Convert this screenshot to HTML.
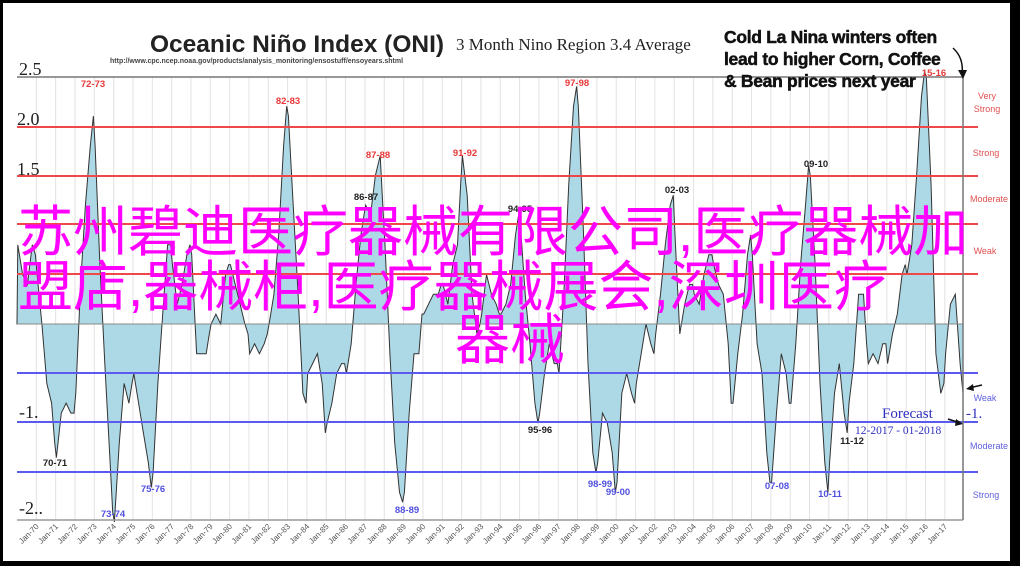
<!DOCTYPE html>
<html><head><meta charset="utf-8"><style>
body{margin:0;background:#000;width:1020px;height:566px;overflow:hidden;position:relative;font-family:"Liberation Sans",sans-serif}
#w{position:absolute;left:3px;top:3px;width:1007px;height:558px;background:#fff}
svg{position:absolute;left:0;top:0}
.cn{position:absolute;white-space:nowrap;color:#ff00ff;font-family:"Liberation Sans","Noto Sans CJK SC",sans-serif;font-size:55px;line-height:55px}
</style></head><body>
<div id="w"></div>
<svg id="s" width="1020" height="566" xmlns="http://www.w3.org/2000/svg">
<g id="grid"></g>
<path id="area" fill="#add8e6" stroke="#333" stroke-width="1"/>
<g stroke-width="2">
<line x1="17" y1="127" x2="978" y2="127" stroke="#f04848"/>
<line x1="17" y1="176" x2="978" y2="176" stroke="#f04848"/>
<line x1="17" y1="224" x2="978" y2="224" stroke="#f04848"/>
<line x1="17" y1="274" x2="978" y2="274" stroke="#f04848"/>
<line x1="17" y1="373" x2="978" y2="373" stroke="#5a5af0"/>
<line x1="17" y1="422" x2="978" y2="422" stroke="#5a5af0"/>
<line x1="17" y1="472" x2="978" y2="472" stroke="#5a5af0"/>
</g>
<line x1="17" y1="324" x2="963" y2="324" stroke="#888" stroke-width="1"/>
<line x1="17" y1="77" x2="963" y2="77" stroke="#777" stroke-width="1.5"/>
<line x1="17" y1="520" x2="963" y2="520" stroke="#999" stroke-width="1.5"/>
<line x1="963" y1="77" x2="963" y2="520" stroke="#777" stroke-width="1.5"/>
<g id="xl" font-size="8" fill="#555"></g>
<g font-family="Liberation Serif,serif" font-size="18" fill="#222">
<text x="19" y="75">2.5</text><text x="17" y="125">2.0</text><text x="17" y="175">1.5</text>
<text x="19" y="418">-1.</text><text x="19" y="514">-2..</text>
</g>
<text x="150" y="52" font-size="24.5" font-weight="bold" fill="#222">Oceanic Niño Index (ONI)</text>
<text x="456" y="50" font-family="Liberation Serif,serif" font-size="17" fill="#222">3 Month Nino Region 3.4 Average</text>
<text x="110" y="63" font-size="7" font-weight="bold" fill="#444">http://www.cpc.ncep.noaa.gov/products/analysis_monitoring/ensostuff/ensoyears.shtml</text>
<g font-size="17.5" font-weight="900" fill="#111" letter-spacing="-0.3" stroke="#111" stroke-width="0.5">
<text x="724" y="43">Cold La Nina winters often</text>
<text x="724" y="65">lead to higher Corn, Coffee</text>
<text x="724" y="87">&amp; Bean prices next year</text>
</g>
<path d="M953,48 Q964,58 962,74" stroke="#111" fill="none" stroke-width="1.5"/>
<path d="M958,70 L963,79 L967,70 Z" fill="#111"/>
<g font-size="9.5" font-weight="bold" text-anchor="middle">
<g fill="#e83838"><text x="93" y="87">72-73</text><text x="288" y="104">82-83</text><text x="378" y="158">87-88</text><text x="465" y="156">91-92</text><text x="577" y="86">97-98</text><text x="934" y="76">15-16</text></g>
<g fill="#222"><text x="366" y="200">86-87</text><text x="520" y="212">94-95</text><text x="677" y="193">02-03</text><text x="816" y="167">09-10</text><text x="55" y="466">70-71</text><text x="540" y="433">95-96</text><text x="852" y="444">11-12</text></g>
<g fill="#5050e0"><text x="113" y="517">73-74</text><text x="153" y="492">75-76</text><text x="407" y="513">88-89</text><text x="600" y="487">98-99</text><text x="618" y="495">99-00</text><text x="777" y="489">07-08</text><text x="830" y="497">10-11</text></g>
</g>
<g font-size="9" text-anchor="middle">
<g fill="#e05050"><text x="987" y="99">Very</text><text x="987" y="112">Strong</text><text x="986" y="156">Strong</text><text x="989" y="202">Moderate</text><text x="985" y="254">Weak</text></g>
<g fill="#6060e0"><text x="985" y="401">Weak</text><text x="989" y="449">Moderate</text><text x="986" y="498">Strong</text></g>
</g>
<g font-family="Liberation Serif,serif" fill="#3030c0">
<text x="882" y="418" font-size="15">Forecast</text>
<text x="966" y="418" font-size="15">-1.</text>
<text x="855" y="434" font-size="11.5">12-2017 - 01-2018</text>
</g>
<path d="M948,419 L960,423" stroke="#111" stroke-width="1.5"/><path d="M956,419 L963,424 L955,426Z" fill="#111"/>
<path d="M982,385 L969,388" stroke="#111" stroke-width="1.5"/><path d="M973,384 L966,389 L974,391Z" fill="#111"/>
</svg>
<div class="cn" style="left:18px;top:205px">苏州碧迪医疗器械有限公司,医疗器械加</div>
<div class="cn" style="left:18px;top:260px">盟店,器械柜,医疗器械展会,深圳医疗</div>
<div class="cn" style="left:455px;top:313px">器械</div>
<script>
var d={1969:[0.8,0.5,0.4,0.8,0.7],1970:[0.5,0.0,-0.6,-0.8,-1.2],1971:[-1.35,-0.9,-0.8,-0.9,-0.9],1972:[-0.7,0.4,1.2,1.8,2.1],1973:[1.8,0.6,-0.4,-1.3,-1.9],1974:[-2.0,-1.2,-0.6,-0.8,-0.6],1975:[-0.5,-0.8,-1.1,-1.4,-1.65],1976:[-1.5,-0.6,0.1,0.8,0.8],1977:[0.6,0.2,0.4,0.7,0.8],1978:[0.7,-0.3,-0.3,-0.3,-0.1],1979:[0.0,0.1,0.0,0.5,0.6],1980:[0.6,0.4,0.2,0.0,-0.1],1981:[-0.3,-0.2,-0.3,-0.2,-0.1],1982:[0.0,0.3,0.9,1.8,2.2],1983:[2.1,1.2,0.3,-0.7,-0.8],1984:[-0.5,-0.4,-0.3,-0.6,-1.1],1985:[-1.0,-0.8,-0.5,-0.4,-0.4],1986:[-0.5,-0.2,0.4,0.9,1.1],1987:[1.2,1.1,1.5,1.7,1.1],1988:[0.8,-0.3,-1.2,-1.7,-1.8],1989:[-1.7,-0.9,-0.3,-0.3,0.1],1990:[0.1,0.2,0.3,0.3,0.4],1991:[0.4,0.2,0.6,0.8,1.4],1992:[1.7,1.3,0.3,-0.1,0.0],1993:[0.1,0.5,0.3,0.2,0.1],1994:[0.1,0.2,0.4,0.9,1.1],1995:[1.0,0.3,-0.2,-0.8,-1.0],1996:[-0.9,-0.5,-0.2,-0.4,-0.4],1997:[-0.5,0.3,1.4,2.2,2.4],1998:[2.2,1.0,-0.4,-1.3,-1.5],1999:[-1.4,-0.9,-1.0,-1.3,-1.7],2000:[-1.6,-0.7,-0.5,-0.7,-0.8],2001:[-0.6,-0.3,0.0,-0.2,-0.3],2002:[-0.1,0.3,0.8,1.2,1.3],2003:[0.9,-0.1,0.2,0.4,0.4],2004:[0.3,0.2,0.5,0.7,0.7],2005:[0.6,0.4,0.3,-0.2,-0.8],2006:[-0.8,-0.3,0.1,0.7,0.9],2007:[0.7,-0.2,-0.5,-1.3,-1.6],2008:[-1.6,-0.9,-0.3,-0.5,-0.8],2009:[-0.8,-0.2,0.6,1.2,1.6],2010:[1.5,0.6,-0.6,-1.4,-1.7],2011:[-1.4,-0.7,-0.4,-0.9,-1.1],2012:[-0.8,-0.4,0.3,0.3,-0.2],2013:[-0.4,-0.3,-0.4,-0.2,-0.2],2014:[-0.4,-0.1,0.1,0.5,0.6],2015:[0.5,0.8,1.5,2.3,2.6],2016:[2.5,1.4,-0.3,-0.7,-0.6],2017:[-0.3,0.2,0.3,-0.4,-0.7]};
var off=[0.04,0.29,0.54,0.79,0.95];
function X(t){return 17+(t-1969)*19.33}
function Y(v){v=Math.max(-2.0,Math.min(2.55,v));return 324-99*v}
var p="M17,324";
for(var y=1969;y<=2017;y++)for(var i=0;i<5;i++){var x=X(y+off[i]);if(x>963)x=963;p+=" L"+x.toFixed(1)+","+Y(d[y][i]).toFixed(1);}
p+=" L963,324 Z";
document.getElementById('area').setAttribute('d',p);
var g=document.getElementById('grid'),xl=document.getElementById('xl'),ns="http://www.w3.org/2000/svg";
for(var y=1969;y<=2017;y++){var x=X(y+1);if(x<963){var l=document.createElementNS(ns,'line');l.setAttribute('x1',x);l.setAttribute('x2',x);l.setAttribute('y1',77);l.setAttribute('y2',520);l.setAttribute('stroke','#e2e2e2');g.appendChild(l);}
var yy=y+1;if(yy<=2017){var t=document.createElementNS(ns,'text');var tx=X(yy)+3;t.setAttribute('x',tx);t.setAttribute('y',527);t.setAttribute('text-anchor','end');t.setAttribute('transform','rotate(-45 '+tx+' 527)');t.textContent='Jan-'+String(yy).slice(2);xl.appendChild(t);}}
</script>
</body></html>
